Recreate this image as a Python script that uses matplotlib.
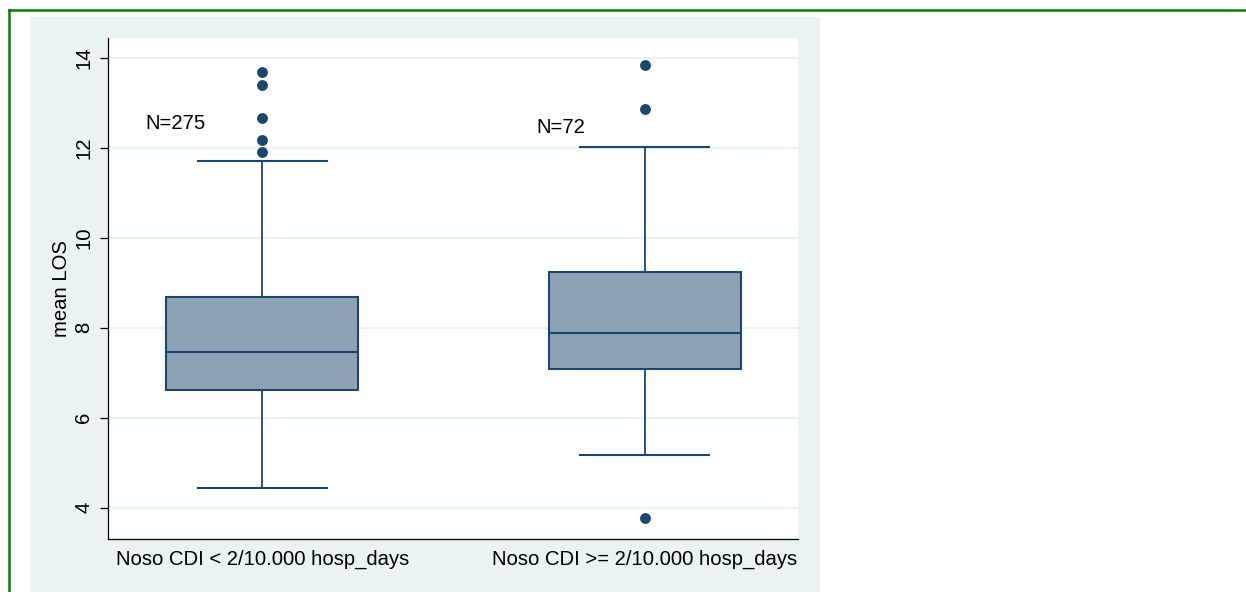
import matplotlib
matplotlib.use("Agg")
from matplotlib import pyplot as plt
from matplotlib.patches import Rectangle
from matplotlib.lines import Line2D

plt.rcParams["font.family"] = ["Liberation Sans", "DejaVu Sans"]

# box summaries
groups = ["Noso CDI < 2/10.000 hosp_days", "Noso CDI >= 2/10.000 hosp_days"]
medians = [7.47, 7.89]
q1 = [6.62, 7.08]
q3 = [8.68, 9.23]
whislo = [4.43, 5.17]
whishi = [11.71, 12.03]
outliers = [[13.70, 13.40, 12.66, 12.17, 11.91], [13.84, 12.87, 3.76]]
n_labels = ["N=275", "N=72"]
n_label_x = [0.694, 1.716]
n_label_y = [12.54, 12.46]
yticks = [4, 6, 8, 10, 12, 14]

navy = "#1a476f"
fill = "#8ea2b6"
panel = "#eaf2f3"
fs = 14.6

fig = plt.figure(figsize=(12.46, 5.92), dpi=100)
W, H = 1246, 592

# light panel behind the graph (Stata style) and green frame
fig.patches.append(Rectangle((30 / W, 0), 790 / W, (H - 17) / H,
                             transform=fig.transFigure, facecolor=panel,
                             edgecolor="none", zorder=-5))
fig.lines.append(Line2D([9 / W, 1], [1 - 10 / H, 1 - 10 / H],
                        transform=fig.transFigure, color="#0a7a0a", lw=1.8))
fig.lines.append(Line2D([9 / W, 9 / W], [0, 1 - 10 / H],
                        transform=fig.transFigure, color="#0a7a0a", lw=1.8))

ax = fig.add_axes([108.3 / W, (H - 539) / H, 690 / W, 500.7 / H])
ax.set_facecolor("white")

stats = []
for i in range(len(groups)):
    stats.append({"med": medians[i], "q1": q1[i], "q3": q3[i],
                  "whislo": whislo[i], "whishi": whishi[i],
                  "fliers": outliers[i], "label": groups[i]})

ax.bxp(stats, positions=[1, 2], widths=0.5, capwidths=0.337,
       patch_artist=True, showfliers=True,
       boxprops=dict(facecolor=fill, edgecolor=navy, linewidth=1.5),
       medianprops=dict(color=navy, linewidth=1.5),
       whiskerprops=dict(color=navy, linewidth=1.3),
       capprops=dict(color=navy, linewidth=1.5),
       flierprops=dict(marker="o", markerfacecolor=navy, markeredgecolor=navy,
                       markersize=6.8, linestyle="none"))

for x, y, t in zip(n_label_x, n_label_y, n_labels):
    ax.text(x, y, t, fontsize=fs, ha="left", va="center", color="black")

ax.set_xlim(0.598, 2.401)
ax.set_ylim(3.30, 14.44)
ax.set_yticks(yticks)
ax.set_yticklabels([str(t) for t in yticks], rotation=90, va="center")
ax.tick_params(axis="y", length=6, width=0.9, pad=5, labelsize=fs)
ax.tick_params(axis="x", length=0, pad=8, labelsize=fs)
ax.yaxis.grid(True, color="#eaf2f3", linewidth=1.5)
ax.set_axisbelow(True)

ax.spines["top"].set_visible(False)
ax.spines["right"].set_visible(False)
ax.spines["left"].set_linewidth(0.9)
ax.spines["bottom"].set_linewidth(0.9)

ax.set_ylabel("mean LOS", fontsize=fs)
ax.yaxis.set_label_coords(-0.054, 0.5)

fig.savefig("out.png", dpi=100)
